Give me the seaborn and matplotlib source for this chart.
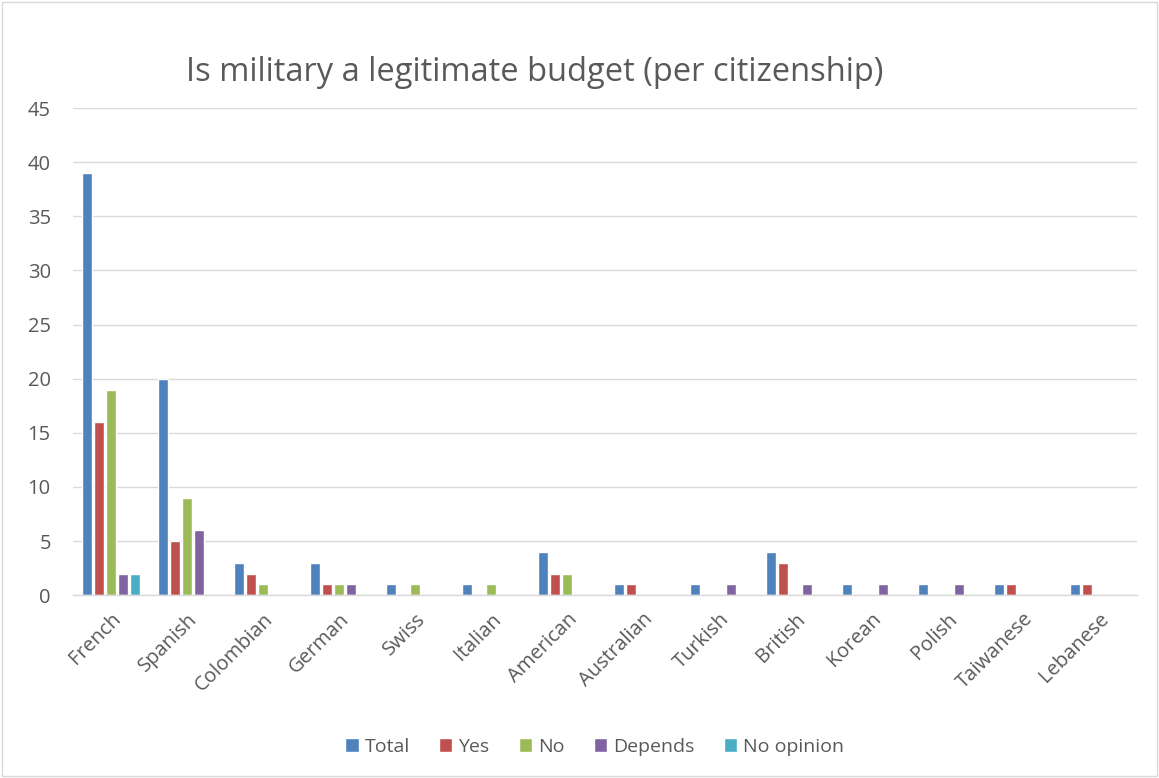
import numpy as np
import pandas as pd
import matplotlib
matplotlib.use("Agg")
import matplotlib.pyplot as plt
import seaborn as sns

# data
countries = ["French", "Spanish", "Colombian", "German", "Swiss", "Italian", "American",
             "Australian", "Turkish", "British", "Korean", "Polish", "Taiwanese", "Lebanese"]
total = [39, 20, 3, 3, 1, 1, 4, 1, 1, 4, 1, 1, 1, 1]
yes = [16, 5, 2, 1, 0, 0, 2, 1, 0, 3, 0, 0, 1, 1]
no = [19, 9, 1, 1, 1, 1, 2, 0, 0, 0, 0, 0, 0, 0]
depends = [2, 6, 0, 1, 0, 0, 0, 0, 1, 1, 1, 1, 0, 0]
no_opinion = [2, 0, 0, 0, 0, 0, 0, 0, 0, 0, 0, 0, 0, 0]

series = ["Total", "Yes", "No", "Depends", "No opinion"]
colors = ["#4F81BD", "#C0504D", "#9BBB59", "#8064A2", "#4BACC6"]

df = pd.DataFrame({"country": countries, "Total": total, "Yes": yes, "No": no,
                   "Depends": depends, "No opinion": no_opinion})
long_df = df.melt(id_vars="country", var_name="answer", value_name="count")

sns.set_style("white")
plt.rcParams["font.family"] = ["Open Sans", "DejaVu Sans"]

fig = plt.figure(figsize=(11.59, 7.78), dpi=100)
ax = fig.add_axes([0.063, 0.235, 0.918, 0.626])

sns.barplot(data=long_df, x="country", y="count", hue="answer", hue_order=series,
            palette=colors, saturation=1, width=0.78, gap=0.18, ax=ax, legend=True)

ax.set_ylim(0, 45)
ax.set_yticks(np.arange(0, 46, 5))
ax.set_xlim(-0.5, len(countries) - 0.5)
ax.yaxis.grid(True, color="#D9D9D9", linewidth=1)
ax.set_axisbelow(True)
for s in ["top", "right", "left"]:
    ax.spines[s].set_visible(False)
ax.spines["bottom"].set_color("#D9D9D9")
ax.spines["bottom"].set_linewidth(1)
ax.tick_params(axis="both", length=0, colors="#595959", labelsize=14.5)
ax.tick_params(axis="y", pad=16)
ax.tick_params(axis="x", pad=10)
plt.setp(ax.get_xticklabels(), rotation=45, ha="right", rotation_mode="anchor")
ax.set_xlabel("")
ax.set_ylabel("")

handles, labels = ax.get_legend_handles_labels()
ax.legend_.remove()
fig.legend(handles, labels, loc="center", bbox_to_anchor=(0.513, 0.04), ncol=5,
           frameon=False, fontsize=14, handlelength=0.7, handleheight=0.7,
           handletextpad=0.3, columnspacing=1.5, labelcolor="#595959")

fig.text(0.4616, 0.907, "Is military a legitimate budget (per citizenship)",
         ha="center", va="center", fontsize=23.5, color="#595959")

fig.patches.append(plt.Rectangle((0.002, 0.002), 0.996, 0.996, transform=fig.transFigure,
                                 fill=False, edgecolor="#D9D9D9", linewidth=1))

fig.savefig("out.png", dpi=100, facecolor="white")
